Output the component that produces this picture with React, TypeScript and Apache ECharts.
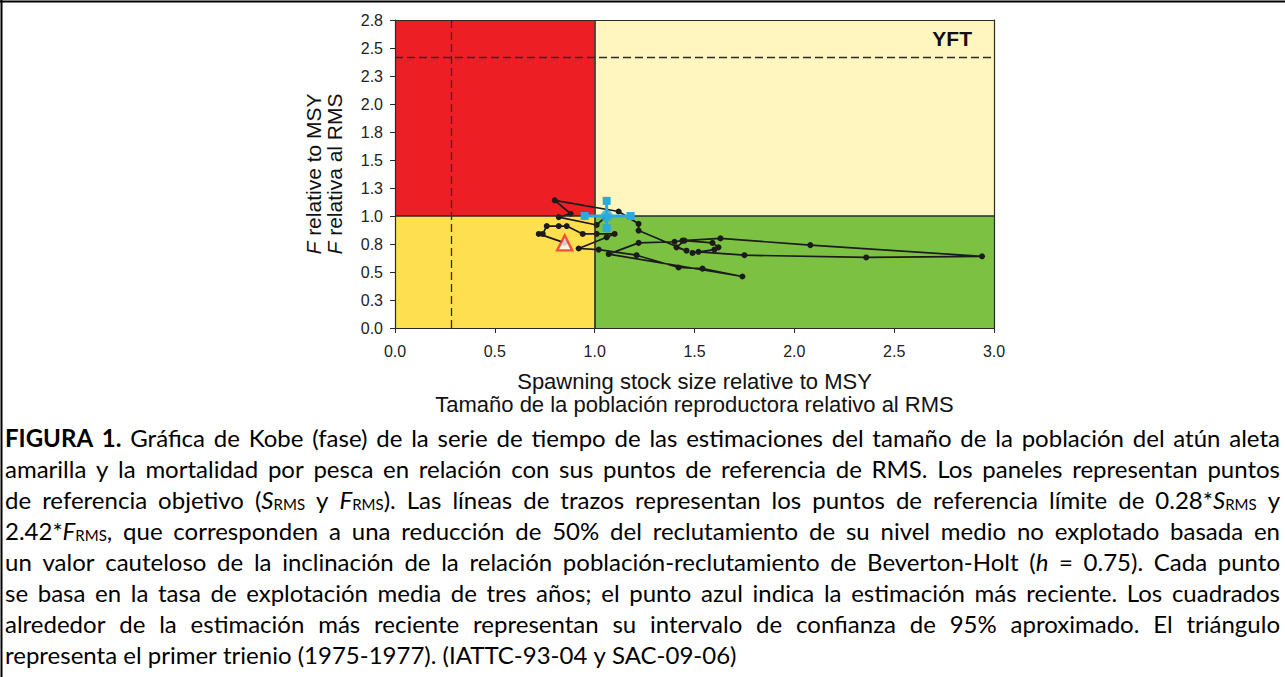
import React, { useEffect, useRef } from "react";
import * as echarts from "echarts";

// ---------- data ----------
const X_MIN = 0;
const X_MAX = 3;
const X_INTERVAL = 0.5;
const Y_MIN = 0;
const Y_MAX = 2.75;
const Y_INTERVAL = 0.25;

const S_TARGET = 1.0;
const F_TARGET = 1.0;
const S_LIMIT = 0.28;
const F_LIMIT = 2.42;

// Kobe trajectory: [S/S_MSY, F/F_MSY], first = 1975-1977, last = most recent
const trajectory: [number, number][] = [
  [0.85, 0.76], [0.72, 0.84], [0.74, 0.84], [0.76, 0.91], [0.82, 0.91],
  [0.86, 0.91], [0.94, 0.84], [1.01, 0.84], [1.10, 0.84], [1.06, 0.81],
  [0.92, 0.71], [1.02, 0.70], [1.21, 0.65], [1.42, 0.54], [1.54, 0.53],
  [1.74, 0.46], [1.07, 0.66], [1.22, 0.76], [1.40, 0.77], [1.44, 0.78],
  [1.63, 0.80], [2.08, 0.74], [2.94, 0.64], [2.36, 0.63], [1.75, 0.65],
  [1.52, 0.68], [1.49, 0.67], [1.60, 0.70], [1.62, 0.72], [1.59, 0.76],
  [1.45, 0.78], [1.41, 0.72], [1.46, 0.69], [1.22, 0.87], [1.22, 0.93],
  [1.12, 1.04], [0.80, 1.14], [0.88, 1.02], [0.82, 0.99], [1.01, 0.92],
  [1.06, 1.00],
];
const firstTriennium: [number, number] = trajectory[0];
const latest: [number, number] = trajectory[trajectory.length - 1];
const latestSRange: [number, number] = [0.95, 1.18];
const latestFRange: [number, number] = [0.89, 1.135];

const STOCK_LABEL = "YFT";
const X_TITLE = ["Spawning stock size relative to MSY", "Tamaño de la población reproductora relativo al RMS"];
const Y_TITLE = ["relative to MSY", "relativa al RMS"];

const CAPTION_LINES = [
  "{b|FIGURA 1.} Gráfica de Kobe (fase) de la serie de tiempo de las estimaciones del tamaño de la población del atún aleta",
  "amarilla y la mortalidad por pesca en relación con sus puntos de referencia de RMS. Los paneles representan puntos",
  "de referencia objetivo ({i|S}{sub|RMS} y {i|F}{sub|RMS}). Las líneas de trazos representan los puntos de referencia límite de 0.28*{i|S}{sub|RMS} y",
  "2.42*{i|F}{sub|RMS}, que corresponden a una reducción de 50% del reclutamiento de su nivel medio no explotado basada en",
  "un valor cauteloso de la inclinación de la relación población-reclutamiento de Beverton-Holt ({i|h} = 0.75). Cada punto",
  "se basa en la tasa de explotación media de tres años; el punto azul indica la estimación más reciente. Los cuadrados",
  "alrededor de la estimación más reciente representan su intervalo de confianza de 95% aproximado. El triángulo",
  "representa el primer trienio (1975-1977). (IATTC-93-04 y SAC-09-06)",
];

// ---------- styling ----------
const C_RED = "#ED1F24";
const C_LIGHT = "#FFF5BF";
const C_YELLOW = "#FEDF4F";
const C_GREEN = "#7CC142";
const C_BLUE = "#29ABE2";
const AXIS_FONT = "Liberation Sans";
const CAP_FONT = "Lato";

type Seg = { st: string; t: string };

function parseLine(line: string): Seg[][] {
  const segs: Seg[] = [];
  const re = /\{(\w+)\|([^}]*)\}/g;
  let last = 0;
  let m: RegExpExecArray | null;
  while ((m = re.exec(line))) {
    if (m.index > last) segs.push({ st: "n", t: line.slice(last, m.index) });
    segs.push({ st: m[1], t: m[2] });
    last = re.lastIndex;
  }
  if (last < line.length) segs.push({ st: "n", t: line.slice(last) });
  const words: Seg[][] = [[]];
  for (const s of segs) {
    const parts = s.t.split(" ");
    parts.forEach((p, k) => {
      if (k > 0) words.push([]);
      if (p) words[words.length - 1].push({ st: s.st, t: p });
    });
  }
  return words.filter((w) => w.length > 0);
}

function capStyle(st: string, size: number): any {
  return {
    fontFamily: CAP_FONT,
    fontSize: st === "sub" ? Math.round(size * 0.64) : size,
    fontWeight: st === "b" ? "bold" : "normal",
    fontStyle: st === "i" ? "italic" : "normal",
    color: "#000",
    lineHeight: size,
    verticalAlign: st === "sub" ? "bottom" : "middle",
  };
}

function buildCaption(left: number, right: number, top: number, step: number): any[] {
  const canvas = document.createElement("canvas");
  const ctx = canvas.getContext("2d")!;
  const measure = (s: Seg, size: number) => {
    const st = capStyle(s.st, size);
    ctx.font = `${st.fontStyle} ${st.fontWeight} ${st.fontSize}px ${st.fontFamily}`;
    return ctx.measureText(s.t).width;
  };
  const space = (size: number) => {
    ctx.font = `normal normal ${size}px ${CAP_FONT}`;
    return ctx.measureText(" ").width;
  };
  const parsed = CAPTION_LINES.map(parseLine);
  const W = right - left;
  const natural = (words: Seg[][], size: number) =>
    words.reduce((a, w) => a + w.reduce((b, s) => b + measure(s, size), 0), 0) + (words.length - 1) * space(size);
  let size = 24;
  let maxNat = 0;
  parsed.slice(0, parsed.length - 1).forEach((w) => (maxNat = Math.max(maxNat, natural(w, size))));
  if (maxNat > W - 4) size = Math.floor(((size * (W - 4)) / maxNat) * 10) / 10;

  return parsed.map((words, i) => {
    const isLast = i === parsed.length - 1;
    const wordsW = words.reduce((a, w) => a + w.reduce((b, s) => b + measure(s, size), 0), 0);
    const gap = isLast ? space(size) : (W - wordsW) / Math.max(1, words.length - 1);
    const text = words
      .map((w) => w.map((s) => `{${s.st}|${s.t}}`).join(""))
      .join("{sp| }");
    return {
      type: "text",
      x: left,
      y: top + step * i,
      silent: true,
      style: {
        text,
        align: "left",
        verticalAlign: "middle",
        rich: {
          n: capStyle("n", size),
          b: capStyle("b", size),
          i: capStyle("i", size),
          sub: capStyle("sub", size),
          sp: { ...capStyle("n", size), width: gap },
        },
      },
    };
  });
}

export default function App() {
  const ref = useRef<HTMLDivElement>(null);

  useEffect(() => {
    if (!ref.current) return;
    const chart = echarts.init(ref.current, undefined, { renderer: "svg" });

    const lineAxisX = {
      type: "value",
      min: X_MIN,
      max: X_MAX,
      interval: X_INTERVAL,
      z: 10,
      splitLine: { show: false },
    };
    const lineAxisY = {
      type: "value",
      min: Y_MIN,
      max: Y_MAX,
      interval: Y_INTERVAL,
      z: 10,
      splitLine: { show: false },
    };
    const axisLineStyle = { show: true, onZero: false, lineStyle: { color: "#2a2a2a", width: 1.2 } };

    const option: any = {
      animation: false,
      backgroundColor: "#ffffff",
      grid: { left: 395, right: 291, top: 20, bottom: 349, containLabel: false },
      xAxis: [
        {
          ...lineAxisX,
          position: "bottom",
          axisLine: axisLineStyle,
          axisTick: { show: true, length: 5, lineStyle: { color: "#2a2a2a" } },
          axisLabel: {
            margin: 15,
            fontSize: 16,
            color: "#222",
            fontFamily: AXIS_FONT,
            formatter: (v: number) => v.toFixed(1),
          },
          name: X_TITLE.join("\n"),
          nameLocation: "middle",
          nameGap: 42,
          nameTextStyle: { fontSize: 22, lineHeight: 23, color: "#111", fontFamily: AXIS_FONT },
        },
        {
          ...lineAxisX,
          position: "top",
          axisLine: axisLineStyle,
          axisTick: { show: false },
          axisLabel: { show: false },
        },
      ],
      yAxis: [
        {
          ...lineAxisY,
          position: "left",
          axisLine: axisLineStyle,
          axisTick: { show: true, length: 5, lineStyle: { color: "#2a2a2a" } },
          axisLabel: {
            margin: 12,
            fontSize: 16,
            color: "#222",
            fontFamily: AXIS_FONT,
            formatter: (v: number) => v.toFixed(1),
          },
          name: `{i|F}{n| ${Y_TITLE[0]}}\n{i|F}{n| ${Y_TITLE[1]}}`,
          nameLocation: "middle",
          nameGap: 50,
          nameRotate: 90,
          nameTextStyle: {
            fontSize: 21,
            lineHeight: 21,
            color: "#111",
            fontFamily: AXIS_FONT,
            rich: {
              i: { fontSize: 21, lineHeight: 21, fontStyle: "italic", color: "#111", fontFamily: AXIS_FONT },
              n: { fontSize: 21, lineHeight: 21, color: "#111", fontFamily: AXIS_FONT },
            },
          },
        },
        {
          ...lineAxisY,
          position: "right",
          axisLine: axisLineStyle,
          axisTick: { show: false },
          axisLabel: { show: false },
        },
      ],
      series: [
        {
          name: "zones",
          type: "line",
          data: [],
          z: 1,
          silent: true,
          markArea: {
            silent: true,
            data: [
              [{ xAxis: X_MIN, yAxis: F_TARGET, itemStyle: { color: C_RED, opacity: 1 } }, { xAxis: S_TARGET, yAxis: Y_MAX }],
              [{ xAxis: S_TARGET, yAxis: F_TARGET, itemStyle: { color: C_LIGHT, opacity: 1 } }, { xAxis: X_MAX, yAxis: Y_MAX }],
              [{ xAxis: X_MIN, yAxis: Y_MIN, itemStyle: { color: C_YELLOW, opacity: 1 } }, { xAxis: S_TARGET, yAxis: F_TARGET }],
              [{ xAxis: S_TARGET, yAxis: Y_MIN, itemStyle: { color: C_GREEN, opacity: 1 } }, { xAxis: X_MAX, yAxis: F_TARGET }],
            ],
          },
          markLine: {
            silent: true,
            symbol: "none",
            label: { show: false },
            data: [
              { xAxis: S_TARGET, lineStyle: { color: "#2a2a2a", width: 1.6, type: "solid" } },
              { yAxis: F_TARGET, lineStyle: { color: "#2a2a2a", width: 1.6, type: "solid" } },
              { xAxis: S_LIMIT, lineStyle: { color: "#2a2a2a", width: 1.3, type: [8, 4] } },
              { yAxis: F_LIMIT, lineStyle: { color: "#2a2a2a", width: 1.3, type: [8, 4] } },
            ],
          },
        },
        {
          name: "trajectory",
          type: "line",
          data: trajectory,
          z: 3,
          symbol: "circle",
          symbolSize: 6,
          itemStyle: { color: "#1b1b1b" },
          lineStyle: { color: "#1b1b1b", width: 1.7 },
        },
        {
          name: "first",
          type: "scatter",
          data: [firstTriennium],
          z: 5,
          symbol: "triangle",
          symbolSize: 15,
          itemStyle: { color: "#ffffff", borderColor: "#EE2A2A", borderWidth: 2.4 },
        },
        {
          name: "ciS",
          type: "line",
          data: [
            [latestSRange[0], latest[1]],
            [latestSRange[1], latest[1]],
          ],
          z: 6,
          symbol: "rect",
          symbolSize: 8,
          itemStyle: { color: C_BLUE },
          lineStyle: { color: C_BLUE, width: 3 },
        },
        {
          name: "ciF",
          type: "line",
          data: [
            [latest[0], latestFRange[0]],
            [latest[0], latestFRange[1]],
          ],
          z: 6,
          symbol: "rect",
          symbolSize: 8,
          itemStyle: { color: C_BLUE },
          lineStyle: { color: C_BLUE, width: 3 },
        },
        {
          name: "latest",
          type: "scatter",
          data: [latest],
          z: 7,
          symbol: "circle",
          symbolSize: 12,
          itemStyle: { color: C_BLUE },
        },
      ],
      graphic: [
        {
          type: "text",
          x: 972,
          y: 38,
          z: 20,
          silent: true,
          style: {
            text: STOCK_LABEL,
            align: "right",
            verticalAlign: "middle",
            fontFamily: AXIS_FONT,
            fontWeight: "bold",
            fontSize: 21,
            fill: "#111",
          },
        },
        {
          type: "line",
          silent: true,
          shape: { x1: 1.5, y1: 0, x2: 1.5, y2: 677 },
          style: { stroke: "#000", lineWidth: 2 },
        },
        {
          type: "line",
          silent: true,
          shape: { x1: 0, y1: 1.5, x2: 1285, y2: 1.5 },
          style: { stroke: "#000", lineWidth: 2 },
        },
        ...buildCaption(5, 1280, 437, 31),
      ],
    };

    chart.setOption(option);
    return () => chart.dispose();
  }, []);

  return (
    <div
      ref={ref}
      style={{ position: "absolute", left: 0, top: 0, width: 1285, height: 677 }}
    />
  );
}
